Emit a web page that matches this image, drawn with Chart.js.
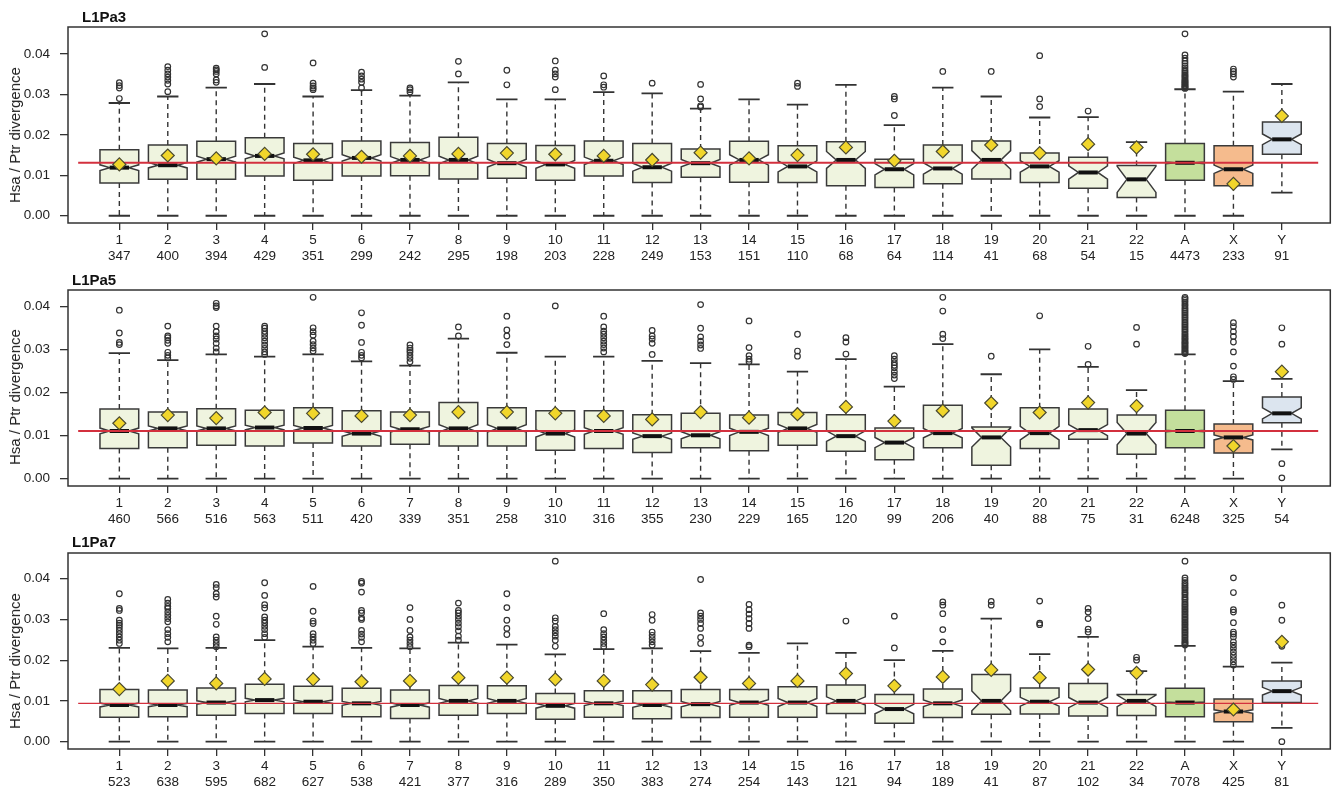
<!DOCTYPE html>
<html>
<head>
<meta charset="utf-8">
<script src="https://cdn.jsdelivr.net/npm/chart.js@4.4.1/dist/chart.umd.min.js"></script>
<style>
  body { margin: 0; background: #fff; font-family: "Liberation Sans", Arial, sans-serif; }
  .panel { position: relative; width: 1338px; height: 265px; }
  .panel canvas { position: absolute; left: 0; top: 0; }
  .ptitle { position: absolute; font-weight: bold; font-size: 15px; line-height: 18px; color: #111; }
  .ylab { position: absolute; left: 15px; width: 0; height: 0; }
  .ylab span { position: absolute; transform: translate(-50%, -50%) rotate(-90deg); white-space: nowrap;
               font-size: 15px; line-height: 18px; color: #222; }
</style>
</head>
<body>
<div class="panel"><canvas id="p3" width="1338" height="265"></canvas>
  <div class="ptitle" style="left:82px;top:8px">L1Pa3</div>
  <div class="ylab" style="top:135px"><span>Hsa / Ptr divergence</span></div></div>
<div class="panel"><canvas id="p5" width="1338" height="265"></canvas>
  <div class="ptitle" style="left:72px;top:6px">L1Pa5</div>
  <div class="ylab" style="top:132px"><span>Hsa / Ptr divergence</span></div></div>
<div class="panel"><canvas id="p7" width="1338" height="265"></canvas>
  <div class="ptitle" style="left:72px;top:3px">L1Pa7</div>
  <div class="ylab" style="top:131px"><span>Hsa / Ptr divergence</span></div></div>
<script>
// Categories and axis ticks
const categories = ['1','2','3','4','5','6','7','8','9','10','11','12','13','14','15','16','17','18','19','20','21','22','A','X','Y'];
const yTickValues = [0, 0.01, 0.02, 0.03, 0.04];

// ---- L1Pa3 ----
const counts3 = [347,400,394,429,351,299,242,295,198,203,228,249,153,151,110,68,64,114,41,68,54,15,4473,233,91];
const q1_3  = [0.0081,0.0090,0.0090,0.0098,0.0088,0.0098,0.0099,0.0091,0.0093,0.0088,0.0098,0.0082,0.0095,0.0083,0.0082,0.0074,0.0070,0.0079,0.0091,0.0082,0.0068,0.0045,0.0088,0.0074,0.0152];
const med3  = [0.0119,0.0125,0.0140,0.0148,0.0137,0.0143,0.0138,0.0138,0.0130,0.0127,0.0136,0.0120,0.0130,0.0138,0.0122,0.0138,0.0115,0.0117,0.0138,0.0122,0.0107,0.0090,0.0131,0.0115,0.0189];
const q3_3  = [0.0163,0.0175,0.0184,0.0193,0.0179,0.0185,0.0181,0.0194,0.0179,0.0174,0.0185,0.0179,0.0165,0.0184,0.0173,0.0183,0.0140,0.0175,0.0185,0.0155,0.0145,0.0124,0.0179,0.0173,0.0232];
const whiHi3 = [0.0279,0.0295,0.0317,0.0326,0.0295,0.0311,0.0297,0.0330,0.0288,0.0288,0.0306,0.0303,0.0265,0.0288,0.0275,0.0324,0.0224,0.0317,0.0295,0.0243,0.0244,0.0182,0.0313,0.0307,0.0326];
const whiLo3 = [0,0,0,0,0,0,0,0,0,0,0,0,0,0,0,0,0,0,0,0,0,0,0,0,0.0057];
const mean3 = [0.0127,0.0149,0.0142,0.0153,0.0152,0.0146,0.0148,0.0153,0.0155,0.0152,0.0148,0.0138,0.0156,0.0142,0.0150,0.0169,0.0136,0.0159,0.0175,0.0155,0.0177,0.0169,null,0.0079,0.0247];
const out3 = [
  [0.0329,0.0322,0.0316,0.029],
  [0.0369,0.036,0.0351,0.0343,0.0335,0.0326,0.0307],
  [0.0365,0.0361,0.0357,0.0351,0.0336,0.033],
  [0.045,0.0367],
  [0.0378,0.0328,0.0321,0.0316,0.0312],
  [0.0355,0.0346,0.0338,0.033,0.0316],
  [0.0316,0.0312,0.0306],
  [0.0382,0.0351],
  [0.036,0.0324],
  [0.0383,0.036,0.0351,0.0343,0.0312],
  [0.0346,0.0324,0.0318],
  [0.0328],
  [0.0325,0.0289,0.0272,0.0269],
  [],
  [0.0328,0.032],
  [],
  [0.0295,0.0289,0.0248],
  [0.0357],
  [0.0357],
  [0.0396,0.0289,0.027],
  [0.0259],
  [],
  [0.045,0.0398,0.039,0.0383,0.0377,0.0371,0.0366,0.0361,0.0357,0.0353,0.0349,0.0346,0.0343,0.0339,0.0336,0.0333,0.0331,0.0328,0.0326,0.0323,0.0321,0.0319,0.0317,0.0315],
  [0.0363,0.0357,0.0351,0.0343],
  []
];
const ref3 = 0.0131;

// ---- L1Pa5 ----
const counts5 = [460,566,516,563,511,420,339,351,258,310,316,355,230,229,165,120,99,206,40,88,75,31,6248,325,54];
const q1_5  = [0.0070,0.0072,0.0078,0.0076,0.0083,0.0076,0.0080,0.0076,0.0076,0.0066,0.0070,0.0061,0.0072,0.0065,0.0078,0.0064,0.0044,0.0072,0.0031,0.0070,0.0092,0.0057,0.0072,0.0060,0.0130];
const med5  = [0.0111,0.0117,0.0117,0.0119,0.0118,0.0105,0.0115,0.0117,0.0117,0.0105,0.0111,0.0099,0.0101,0.0109,0.0117,0.0099,0.0084,0.0106,0.0096,0.0106,0.0113,0.0105,0.0111,0.0096,0.0152];
const q3_5  = [0.0162,0.0155,0.0163,0.0159,0.0165,0.0158,0.0155,0.0177,0.0165,0.0158,0.0158,0.0149,0.0152,0.0148,0.0154,0.0149,0.0118,0.0171,0.0120,0.0165,0.0162,0.0148,0.0159,0.0127,0.0190];
const whiHi5 = [0.0292,0.0276,0.0289,0.0284,0.0289,0.0273,0.0263,0.0326,0.0293,0.0284,0.0284,0.0274,0.0269,0.0266,0.0249,0.0278,0.0214,0.0313,0.0243,0.0301,0.0260,0.0206,0.0289,0.0227,0.0232];
const whiLo5 = [0,0,0,0,0,0,0,0,0,0,0,0,0,0,0,0,0,0,0,0,0,0,0,0,0.0068];
const mean5 = [0.0129,0.0148,0.0141,0.0154,0.0152,0.0146,0.0148,0.0155,0.0155,0.0152,0.0146,0.0138,0.0155,0.0142,0.0150,0.0167,0.0134,0.0158,0.0176,0.0154,0.0177,0.0169,null,0.0076,0.0249];
const out5 = [
  [0.0392,0.0339,0.0317,0.0312],
  [0.0355,0.0332,0.0328,0.0322,0.0315,0.0294,0.0287,0.0281],
  [0.0408,0.0402,0.0398,0.0355,0.0342,0.0332,0.0325,0.0315,0.0304,0.0295],
  [0.0355,0.035,0.0343,0.0336,0.0328,0.032,0.0311,0.0303,0.0295,0.0289],
  [0.0422,0.0351,0.0342,0.0334,0.032,0.0312,0.0304,0.0297],
  [0.0386,0.0357,0.0317,0.0294,0.0287,0.0281],
  [0.0311,0.0304,0.0299,0.0294,0.0287,0.028,0.0272],
  [0.0353,0.0332],
  [0.0378,0.0346,0.0332,0.0312],
  [0.0402],
  [0.0378,0.0353,0.0343,0.0336,0.0328,0.032,0.0312,0.0304,0.0295],
  [0.0345,0.0332,0.0325,0.0315,0.0289],
  [0.0405,0.035,0.033,0.032,0.0311,0.0303],
  [0.0367,0.0305,0.0286,0.0278,0.0272],
  [0.0336,0.0297,0.0285],
  [0.0328,0.0318,0.029],
  [0.0286,0.0278,0.027,0.0264,0.0258,0.0249,0.0241,0.0233],
  [0.0422,0.039,0.0336,0.0326],
  [0.0285],
  [0.0379],
  [0.0308,0.0266],
  [0.0352,0.0313],
  [0.0422,0.0419,0.0415,0.0411,0.0406,0.0402,0.0397,0.0393,0.0389,0.0385,0.0381,0.0377,0.0373,0.0369,0.0365,0.0361,0.0357,0.0353,0.0349,0.0345,0.0341,0.0337,0.0334,0.033,0.0327,0.0324,0.032,0.0317,0.0314,0.0311,0.0308,0.0305,0.0302,0.0299,0.0296,0.0293,0.0291],
  [0.0363,0.0354,0.0342,0.0331,0.0318,0.0295,0.0262,0.0237,0.0231],
  [0.0351,0.0313,0.0035,0.0002]
];
const ref5 = 0.0111;

// ---- L1Pa7 ----
const counts7 = [523,638,595,682,627,538,421,377,316,289,350,383,274,254,143,121,94,189,41,87,102,34,7078,425,81];
const q1_7  = [0.0060,0.0061,0.0065,0.0069,0.0069,0.0061,0.0057,0.0065,0.0069,0.0055,0.0060,0.0056,0.0059,0.0060,0.0060,0.0069,0.0045,0.0059,0.0067,0.0068,0.0063,0.0064,0.0061,0.0049,0.0096];
const med7  = [0.0090,0.0090,0.0096,0.0102,0.0098,0.0094,0.0090,0.0100,0.0100,0.0088,0.0094,0.0090,0.0092,0.0096,0.0096,0.0100,0.0080,0.0094,0.0100,0.0098,0.0096,0.0100,0.0096,0.0074,0.0124];
const q3_7  = [0.0128,0.0127,0.0132,0.0141,0.0136,0.0131,0.0127,0.0138,0.0137,0.0118,0.0125,0.0125,0.0128,0.0128,0.0135,0.0139,0.0116,0.0129,0.0165,0.0132,0.0143,0.0116,0.0131,0.0105,0.0149];
const whiHi7 = [0.0230,0.0229,0.0230,0.0249,0.0233,0.0230,0.0229,0.0243,0.0238,0.0214,0.0227,0.0229,0.0222,0.0218,0.0241,0.0218,0.0200,0.0223,0.0302,0.0215,0.0257,0.0173,0.0235,0.0184,0.0194];
const whiLo7 = [0,0,0,0,0,0,0,0,0,0,0,0,0,0,0,0,0,0,0,0,0,0,0,0,0.0034];
const mean7 = [0.0129,0.0149,0.0143,0.0154,0.0153,0.0147,0.0149,0.0157,0.0157,0.0153,0.0149,0.0140,0.0158,0.0143,0.0149,0.0167,0.0137,0.0159,0.0176,0.0157,0.0177,0.0169,null,0.0079,0.0245];
const out7 = [
  [0.0363,0.0327,0.0322,0.0298,0.0291,0.0286,0.028,0.0273,0.0265,0.0257,0.0249,0.0241],
  [0.0349,0.034,0.0332,0.0327,0.0318,0.031,0.0302,0.0294,0.0275,0.0265,0.0256,0.0245],
  [0.0386,0.0378,0.0363,0.0355,0.0308,0.0288,0.0257,0.0249,0.0241,0.0233],
  [0.039,0.0359,0.0336,0.0328,0.0306,0.0298,0.0291,0.0283,0.0275,0.0265,0.0256],
  [0.0381,0.032,0.0296,0.029,0.0265,0.0257,0.0249,0.0241],
  [0.0393,0.0389,0.0367,0.0322,0.0316,0.0304,0.03,0.0273,0.0264,0.0256,0.0245],
  [0.0329,0.03,0.0273,0.0257,0.0249,0.0241,0.0233],
  [0.034,0.0322,0.0316,0.0308,0.03,0.0291,0.0282,0.0272,0.0259,0.0249],
  [0.0363,0.0329,0.0298,0.0278,0.0263],
  [0.0443,0.0304,0.0296,0.0283,0.0275,0.0267,0.0259,0.0249,0.0234],
  [0.0314,0.0275,0.0265,0.0257,0.0249,0.0241,0.0233],
  [0.0312,0.0298,0.0269,0.0261,0.0253,0.0245,0.0237],
  [0.0398,0.0316,0.0308,0.03,0.029,0.0278,0.0256,0.0241],
  [0.0337,0.0324,0.0313,0.0302,0.029,0.0278,0.0237,0.0233],
  [],
  [0.0296],
  [0.0308,0.023],
  [0.0343,0.0335,0.0314,0.0275,0.0245],
  [0.0344,0.0335],
  [0.0345,0.0291,0.0287],
  [0.0327,0.0318,0.0302,0.0276,0.0269],
  [0.0207,0.02],
  [0.0443,0.0402,0.0396,0.039,0.0386,0.0381,0.0377,0.0373,0.0368,0.0364,0.036,0.0355,0.0351,0.0347,0.0342,0.0338,0.0334,0.033,0.0326,0.0322,0.0318,0.0314,0.031,0.0306,0.0302,0.0298,0.0294,0.029,0.0286,0.0282,0.0278,0.0274,0.027,0.0266,0.0262,0.0258,0.0254,0.025,0.0246,0.0243,0.024,0.0237],
  [0.0402,0.0366,0.0324,0.0318,0.0292,0.0269,0.0264,0.0257,0.0245,0.0237,0.0229,0.022,0.0212,0.0204,0.0196,0.0188],
  [0.0335,0.0298,0.0234,0.0]
];
const ref7 = 0.0094;

// Styling
const FONT = '"Liberation Sans", Arial, sans-serif';
const INK = '#333';
const BOX_HALF = 0.40;    // half box width, in category units
const NOTCH_FRAC = 0.5;   // width at the median relative to the box
const STAPLE_FRAC = 0.55;
const REF_START = 0.15, REF_END = 25.75;
const X_MIN = -0.06, X_MAX = 26.0;

function boxFill(cat) {
  if (cat === 'A') return '#c4df9c';
  if (cat === 'X') return '#f5bb8d';
  if (cat === 'Y') return '#dce5ef';
  return '#eff4df';
}

function notchedBoxPlugin(s) {
  return {
    id: 'notchedBoxes',
    beforeDatasetsDraw(chart) {
      const { ctx, scales: { x, y } } = chart;
      ctx.save();
      categories.forEach((cat, i) => {
        const cx = x.getPixelForValue(i + 1);
        const hw = x.getPixelForValue(i + 1 + BOX_HALF) - cx;
        const notch = 1.58 * (s.q3[i] - s.q1[i]) / Math.sqrt(s.n[i]);
        const yq1 = y.getPixelForValue(s.q1[i]);
        const yq3 = y.getPixelForValue(s.q3[i]);
        const ymed = y.getPixelForValue(s.med[i]);
        const ynl = y.getPixelForValue(s.med[i] - notch);
        const ynh = y.getPixelForValue(s.med[i] + notch);
        const yhi = y.getPixelForValue(s.hi[i]);
        const ylo = y.getPixelForValue(s.lo[i]);

        // whiskers
        ctx.strokeStyle = INK;
        ctx.lineWidth = 1.4;
        ctx.setLineDash([5, 4]);
        ctx.beginPath();
        ctx.moveTo(cx, yq3); ctx.lineTo(cx, yhi);
        ctx.moveTo(cx, yq1); ctx.lineTo(cx, ylo);
        ctx.stroke();
        ctx.setLineDash([]);
        ctx.lineWidth = 1.8;
        ctx.beginPath();
        ctx.moveTo(cx - hw * STAPLE_FRAC, yhi); ctx.lineTo(cx + hw * STAPLE_FRAC, yhi);
        ctx.moveTo(cx - hw * STAPLE_FRAC, ylo); ctx.lineTo(cx + hw * STAPLE_FRAC, ylo);
        ctx.stroke();

        // notched box
        ctx.beginPath();
        ctx.moveTo(cx - hw, yq1);
        ctx.lineTo(cx - hw, ynl);
        ctx.lineTo(cx - hw * NOTCH_FRAC, ymed);
        ctx.lineTo(cx - hw, ynh);
        ctx.lineTo(cx - hw, yq3);
        ctx.lineTo(cx + hw, yq3);
        ctx.lineTo(cx + hw, ynh);
        ctx.lineTo(cx + hw * NOTCH_FRAC, ymed);
        ctx.lineTo(cx + hw, ynl);
        ctx.lineTo(cx + hw, yq1);
        ctx.closePath();
        ctx.fillStyle = boxFill(cat);
        ctx.fill();
        ctx.lineWidth = 1.5;
        ctx.strokeStyle = '#3a3a3a';
        ctx.stroke();

        // median
        ctx.lineWidth = 4;
        ctx.strokeStyle = '#111';
        ctx.beginPath();
        ctx.moveTo(cx - hw * NOTCH_FRAC, ymed);
        ctx.lineTo(cx + hw * NOTCH_FRAC, ymed);
        ctx.stroke();
      });
      ctx.restore();
    },
    afterDatasetsDraw(chart) {
      const { ctx, chartArea: a } = chart;
      ctx.save();
      ctx.strokeStyle = INK;
      ctx.lineWidth = 1.5;
      ctx.strokeRect(a.left, a.top, a.right - a.left, a.bottom - a.top);
      ctx.restore();
    }
  };
}

function makePanel(id, s, ref, yMin, yMax, top, bottom, refWidth) {
  const outliers = s.out.flatMap((vals, i) => vals.map(v => ({ x: i + 1, y: v })));
  const means = s.mean.map((v, i) => ({ x: i + 1, y: v })).filter(p => p.y !== null);
  new Chart(document.getElementById(id), {
    type: 'scatter',
    data: {
      datasets: [
        {
          label: 'mean', data: means, order: 0,
          pointStyle: 'rectRot', pointRadius: 6.5,
          backgroundColor: '#f1d62b', borderColor: '#4a4a30', borderWidth: 1.2
        },
        {
          type: 'line', label: 'reference', order: 1,
          data: [{ x: REF_START, y: ref }, { x: REF_END, y: ref }],
          borderColor: '#d3303e', borderWidth: refWidth, pointRadius: 0
        },
        {
          label: 'outliers', data: outliers, order: 2,
          pointStyle: 'circle', pointRadius: 2.8,
          backgroundColor: 'rgba(0,0,0,0)', borderColor: INK, borderWidth: 1.2
        }
      ]
    },
    options: {
      responsive: false,
      animation: false,
      layout: { padding: { top: top, right: 3, left: 0, bottom: 0 } },
      plugins: { legend: { display: false }, tooltip: { enabled: false } },
      scales: {
        x: {
          type: 'linear', min: X_MIN, max: X_MAX,
          afterBuildTicks: scale => { scale.ticks = categories.map((c, i) => ({ value: i + 1 })); },
          afterFit: scale => { scale.height = 265 - bottom; },
          border: { display: false },
          grid: { drawOnChartArea: false, drawTicks: true, tickLength: 7, color: INK, lineWidth: 1.3 },
          ticks: {
            autoSkip: false, maxRotation: 0, padding: 2, color: '#222',
            font: { family: FONT, size: 13.5 },
            callback: v => [categories[v - 1], String(s.n[v - 1])]
          }
        },
        y: {
          min: yMin, max: yMax,
          afterBuildTicks: scale => { scale.ticks = yTickValues.map(v => ({ value: v })); },
          afterFit: scale => { scale.width = 68; },
          border: { display: false },
          grid: { drawOnChartArea: false, drawTicks: true, tickLength: 8, color: INK, lineWidth: 1.3 },
          ticks: {
            padding: 10, color: '#222',
            font: { family: FONT, size: 13.5 },
            callback: v => v.toFixed(2)
          }
        }
      }
    },
    plugins: [notchedBoxPlugin(s)]
  });
}

makePanel('p3', { n: counts3, q1: q1_3, med: med3, q3: q3_3, hi: whiHi3, lo: whiLo3, mean: mean3, out: out3 },
  ref3, -0.0018, 0.0467, 27, 223, 2);
makePanel('p5', { n: counts5, q1: q1_5, med: med5, q3: q3_5, hi: whiHi5, lo: whiLo5, mean: mean5, out: out5 },
  ref5, -0.0017, 0.0439, 25, 221, 2);
makePanel('p7', { n: counts7, q1: q1_7, med: med7, q3: q3_7, hi: whiHi7, lo: whiLo7, mean: mean7, out: out7 },
  ref7, -0.0018, 0.0463, 23, 219, 1.3);
</script>
</body>
</html>
